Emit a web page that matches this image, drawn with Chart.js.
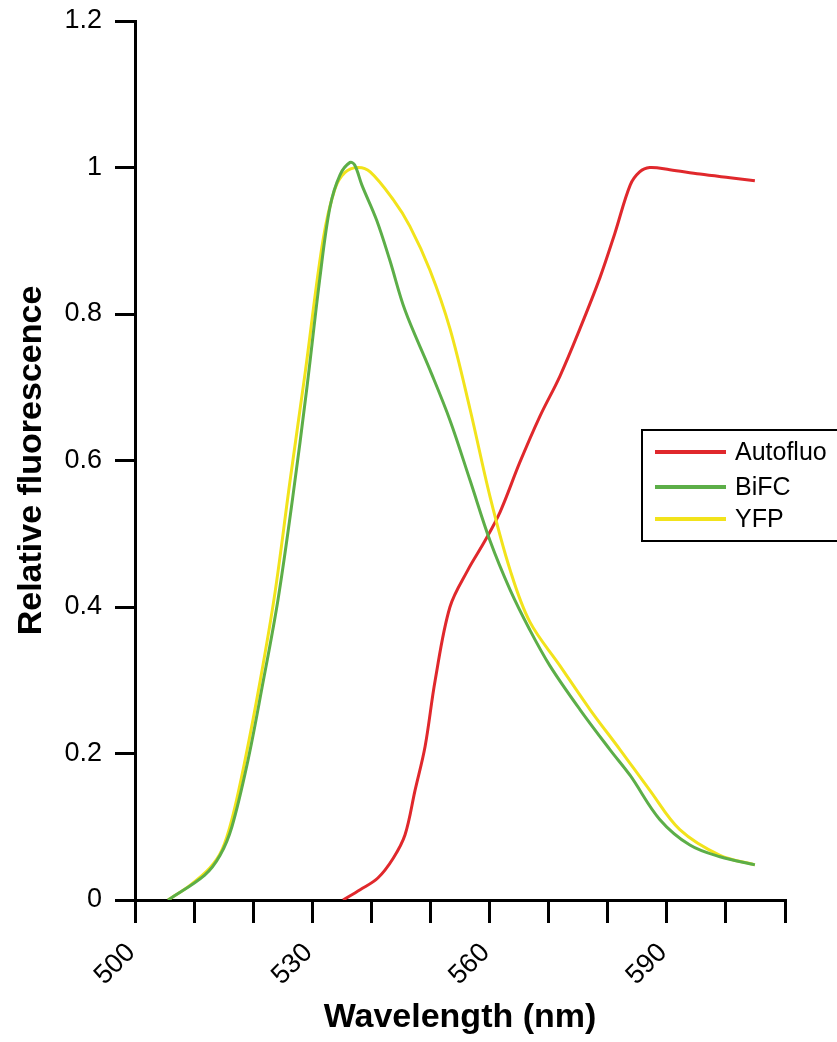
<!DOCTYPE html>
<html>
<head>
<meta charset="utf-8">
<script src="https://cdn.jsdelivr.net/npm/chart.js@4.4.1/dist/chart.umd.min.js"></script>
<style>
  html, body { margin: 0; padding: 0; background: #ffffff; }
  #wrap { width: 837px; height: 1042px; }
</style>
</head>
<body>
<div id="wrap"><canvas id="c" width="837" height="1042"></canvas></div>
<script>
// ---- data ----
const seriesNames = ["Autofluo", "BiFC", "YFP"];
const xTickLabels = [500, 530, 560, 590];

const autofluoX = [535.2, 538.1, 541.1, 543.7, 545.7, 547.4, 549.1, 550.8, 553.3, 556.3, 559.2, 561.8, 565.1, 568.5, 571.9, 575.3, 578.7, 581.2, 583.8, 585.4, 587.1, 590.5, 595.6, 600.7, 604.9];
const autofluoY = [0, 0.014, 0.03, 0.057, 0.089, 0.15, 0.21, 0.30, 0.40, 0.45, 0.49, 0.53, 0.597, 0.66, 0.715, 0.78, 0.85, 0.91, 0.976, 0.994, 1.0, 0.997, 0.991, 0.986, 0.982];

const bifcX = [505.6, 511.8, 514.4, 516.4, 519.1, 521.5, 524.2, 526.7, 529.1, 531.3, 533.0, 534.7, 536.4, 537.2, 538.4, 540.9, 543.1, 545.7, 549.9, 553.3, 556.7, 560.1, 563.5, 566.8, 570.2, 575.3, 580.4, 583.8, 588.8, 593.9, 599.0, 604.9];
const bifcY = [0, 0.034, 0.061, 0.10, 0.19, 0.29, 0.41, 0.55, 0.70, 0.85, 0.946, 0.99, 1.007, 1.003, 0.976, 0.928, 0.874, 0.805, 0.724, 0.655, 0.573, 0.49, 0.423, 0.369, 0.32, 0.26, 0.205, 0.17, 0.11, 0.075, 0.059, 0.048];

const yfpX = [505.6, 509.3, 512.7, 514.7, 516.4, 518.6, 521.2, 523.7, 526.2, 528.8, 531.8, 533.8, 535.5, 537.7, 539.8, 543.7, 546.5, 549.9, 553.3, 556.7, 560.1, 563.5, 566.8, 571.9, 577.0, 582.1, 587.1, 592.2, 599.0, 604.9];
const yfpY = [0, 0.02, 0.044, 0.068, 0.11, 0.19, 0.30, 0.42, 0.57, 0.72, 0.90, 0.97, 0.993, 1.0, 0.994, 0.956, 0.92, 0.86, 0.78, 0.67, 0.55, 0.45, 0.38, 0.32, 0.26, 0.205, 0.15, 0.096, 0.061, 0.048];

// ---- styles ----
const colors = ["#e0282c", "#5cae48", "#f2e31b"];
const FONT = "'Liberation Sans', Arial, Helvetica, sans-serif";

function pts(xs, ys) { return xs.map((x, i) => ({ x: x, y: ys[i] })); }

const legendPlugin = {
  id: 'boxLegend',
  afterDraw(chart) {
    const ctx = chart.ctx;
    ctx.save();
    ctx.strokeStyle = '#000';
    ctx.lineWidth = 2;
    ctx.strokeRect(642, 430, 210, 111);
    const ys = [452, 487, 519];
    ctx.font = "25px " + FONT;
    ctx.textBaseline = 'middle';
    ctx.textAlign = 'left';
    seriesNames.forEach((n, i) => {
      ctx.strokeStyle = colors[i];
      ctx.lineWidth = 4;
      ctx.beginPath();
      ctx.moveTo(655, ys[i]);
      ctx.lineTo(726, ys[i]);
      ctx.stroke();
      ctx.fillStyle = '#000';
      ctx.fillText(n, 735, ys[i] + 1);
    });
    ctx.restore();
  }
};

const ds = (label, data, color, order) => ({
  label: label, data: data, borderColor: color, backgroundColor: color,
  borderWidth: 3, pointRadius: 0, tension: 0.35, fill: false, order: order
});

new Chart(document.getElementById('c'), {
  type: 'line',
  data: {
    datasets: [
      ds(seriesNames[0], pts(autofluoX, autofluoY), colors[0], 3),
      ds(seriesNames[1], pts(bifcX, bifcY), colors[1], 1),
      ds(seriesNames[2], pts(yfpX, yfpY), colors[2], 2)
    ]
  },
  options: {
    responsive: false,
    devicePixelRatio: 1,
    animation: false,
    layout: { padding: { left: 0, right: 52, top: 21, bottom: 0 } },
    plugins: { legend: { display: false }, tooltip: { enabled: false } },
    scales: {
      x: {
        type: 'linear', min: 500, max: 610,
        afterFit(s) { s.height = 142; s.paddingLeft = 0; s.paddingRight = 0; },
        border: { display: true, color: '#000', width: 3 },
        grid: { display: true, drawOnChartArea: false, drawTicks: true, tickLength: 23, color: '#000', lineWidth: 3 },
        ticks: {
          stepSize: 10, autoSkip: false, maxRotation: 45, minRotation: 45,
          padding: 14, labelOffset: -4, color: '#000', font: { family: FONT, size: 27 },
          callback: (v) => xTickLabels.includes(v) ? String(v) : ''
        },
        title: { display: true, text: 'Wavelength (nm)', color: '#000', font: { family: FONT, size: 34, weight: 'bold' }, padding: { top: 0, bottom: 4 } }
      },
      y: {
        min: 0, max: 1.2,
        afterFit(s) { s.width = 135; s.paddingTop = 0; s.paddingBottom = 0; },
        border: { display: true, color: '#000', width: 3 },
        grid: { display: true, drawOnChartArea: false, drawTicks: true, tickLength: 20, color: '#000', lineWidth: 3 },
        ticks: { stepSize: 0.2, padding: 13, color: '#000', font: { family: FONT, size: 27 },
          callback: (v) => String(Number(v.toFixed(1))) },
        title: { display: true, text: 'Relative fluorescence', color: '#000', font: { family: FONT, size: 34, weight: 'bold' }, padding: { top: 11, bottom: 0 } }
      }
    }
  },
  plugins: [legendPlugin]
});
</script>
</body>
</html>
